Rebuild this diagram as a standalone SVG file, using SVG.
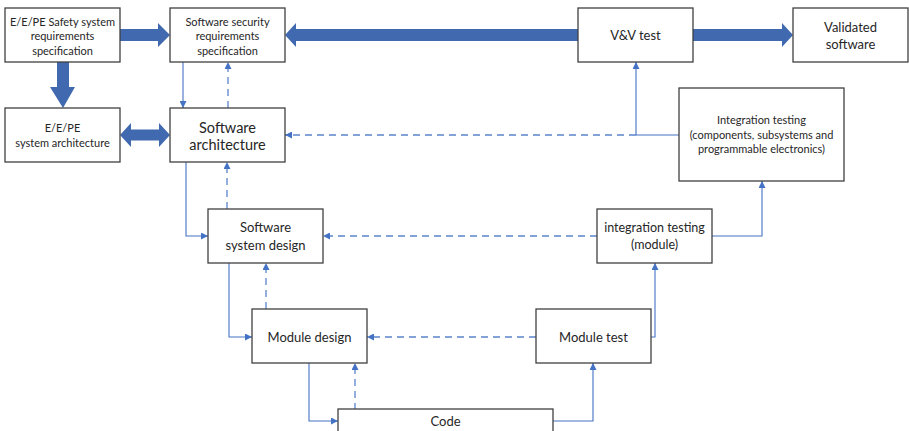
<svg xmlns="http://www.w3.org/2000/svg" width="909" height="431" viewBox="0 0 909 431">
<style>
.box{fill:#fff;stroke:#404040;stroke-width:1.3}
.t{font-family:Lato,"Liberation Sans",sans-serif;fill:#262626;text-anchor:middle}
.s11{font-size:11px}
.s12{font-size:12.5px}
.s13{font-size:13px}
.s14{font-size:14.5px}
.thick{fill:#4169B0}
.ln{fill:none;stroke:#4472C4;stroke-width:1.1}
.dash{fill:none;stroke:#5B84CC;stroke-width:1.3;stroke-dasharray:7,5}
</style>
<defs>
<marker id="ah" viewBox="0 0 10 10" refX="10" refY="5" markerWidth="7" markerHeight="7" markerUnits="userSpaceOnUse" orient="auto">
<path d="M0,0 L10,5 L0,10 z" fill="#4472C4"/>
</marker>
</defs>
<g id="connectors">
<!-- thick arrows -->
<polygon class="thick" points="120,29 158,29 158,23 170,35 158,47 158,41 120,41"/>
<polygon class="thick" points="57,62 69,62 69,87 75,87 63,108 50,87 57,87"/>
<polygon class="thick" points="120,135 131,123 131,129.5 159,129.5 159,123 170,135 159,147 159,140.5 131,140.5 131,147"/>
<polygon class="thick" points="578,29 296,29 296,23 285,35 296,47 296,41 578,41"/>
<polygon class="thick" points="693,29 782,29 782,23 793,35 782,47 782,41 693,41"/>
<!-- thin solid -->
<path class="ln" d="M183,62 V108" marker-end="url(#ah)"/>
<path class="ln" d="M679,135 H636 V62" marker-end="url(#ah)"/>
<path class="ln" d="M186,162 V236 H208" marker-end="url(#ah)"/>
<path class="ln" d="M229,263 V337 H252" marker-end="url(#ah)"/>
<path class="ln" d="M309,363 V421 H338" marker-end="url(#ah)"/>
<path class="ln" d="M553,421 H593 V363" marker-end="url(#ah)"/>
<path class="ln" d="M651,337 H655 V263" marker-end="url(#ah)"/>
<path class="ln" d="M712,236 H762 V181" marker-end="url(#ah)"/>
<!-- dashed -->
<path class="dash" d="M228,108 V62" marker-end="url(#ah)"/>
<path class="dash" d="M636,135 H285" marker-end="url(#ah)"/>
<path class="dash" d="M227,209 V162" marker-end="url(#ah)"/>
<path class="dash" d="M597,236 H323" marker-end="url(#ah)"/>
<path class="dash" d="M266,309 V263" marker-end="url(#ah)"/>
<path class="dash" d="M536,337 H367" marker-end="url(#ah)"/>
<path class="dash" d="M355,410 V363" marker-end="url(#ah)"/>
</g>
<g id="ee-safety-req">
<rect class="box" x="5" y="8" width="115" height="54"/>
<text class="t s11" x="62.5" y="26">E/E/PE Safety system</text>
<text class="t s11" x="62.5" y="40">requirements</text>
<text class="t s11" x="62.5" y="55">specification</text>
</g>
<g id="sw-security-req">
<rect class="box" x="170" y="8" width="115" height="54"/>
<text class="t s11" x="227.5" y="26">Software security</text>
<text class="t s11" x="227.5" y="40">requirements</text>
<text class="t s11" x="227.5" y="55">specification</text>
</g>
<g id="ee-sys-arch">
<rect class="box" x="5" y="108" width="115" height="54"/>
<text class="t s11" x="62.5" y="132">E/E/PE</text>
<text class="t s11" x="62.5" y="147">system architecture</text>
</g>
<g id="sw-arch">
<rect class="box" x="170" y="108" width="115" height="54"/>
<text class="t s14" x="227.5" y="133">Software</text>
<text class="t s14" x="227.5" y="150">architecture</text>
</g>
<g id="vv-test">
<rect class="box" x="578" y="8" width="115" height="54"/>
<text class="t s13" x="635.5" y="40">V&amp;V test</text>
</g>
<g id="validated-sw">
<rect class="box" x="793" y="8" width="115" height="54"/>
<text class="t s13" x="850.5" y="32">Validated</text>
<text class="t s13" x="850.5" y="49">software</text>
</g>
<g id="integration-testing">
<rect class="box" x="679" y="88" width="165" height="93"/>
<text class="t s11" x="761.5" y="124">Integration testing</text>
<text class="t s11" x="761.5" y="139">(components, subsystems and</text>
<text class="t s11" x="761.5" y="153">programmable electronics)</text>
</g>
<g id="sw-sys-design">
<rect class="box" x="208" y="209" width="115" height="54"/>
<text class="t s13" x="265.5" y="232">Software</text>
<text class="t s13" x="265.5" y="250">system design</text>
</g>
<g id="integration-module">
<rect class="box" x="597" y="209" width="115" height="54"/>
<text class="t s12" x="654.5" y="232">integration testing</text>
<text class="t s12" x="654.5" y="249">(module)</text>
</g>
<g id="module-design">
<rect class="box" x="252" y="309" width="115" height="54"/>
<text class="t s13" x="309.5" y="341.5">Module design</text>
</g>
<g id="module-test">
<rect class="box" x="536" y="309" width="115" height="54"/>
<text class="t s13" x="593.5" y="341.5">Module test</text>
</g>
<g id="code">
<rect class="box" x="338" y="409" width="215" height="54"/>
<text class="t s13" x="445.5" y="425.5">Code</text>
</g>
</svg>
